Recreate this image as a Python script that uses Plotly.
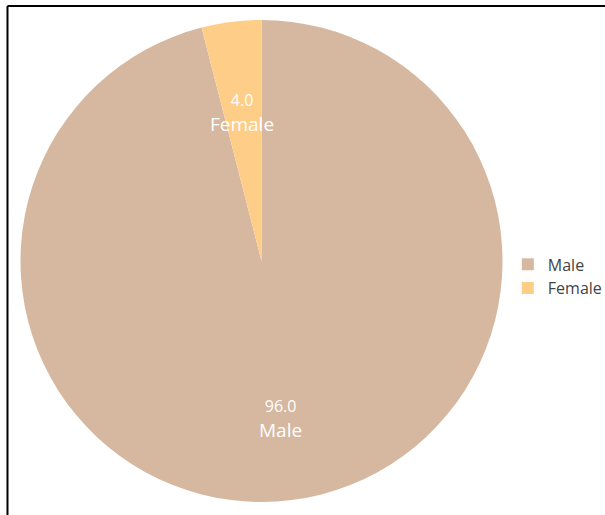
import math
import plotly.graph_objects as go

labels = ["Male", "Female"]
values = [96.0, 4.0]
colors = ["#D6B8A0", "#FECE88"]

W, H = 605, 515
ML, MR, MT, MB = 20, 102, 20, 13
PW, PH = W - ML - MR, H - MT - MB
R_PX = min(PW, PH) / 2
LABEL_R = 0.64  # fraction of radius where labels sit

fig = go.Figure(go.Pie(
    labels=labels,
    values=values,
    sort=False,
    direction="clockwise",
    marker=dict(colors=colors, line=dict(width=0)),
    textinfo="none",
    hoverinfo="label+value",
    domain=dict(x=[0, 1], y=[0, 1]),
))

# slice labels, placed at each slice's mid-angle
total = sum(values)
cum = 0.0
annotations = []
for lab, val in zip(labels, values):
    mid = (cum + val / 2) / total * 2 * math.pi
    cum += val
    dx = math.sin(mid) * R_PX * LABEL_R
    dy = math.cos(mid) * R_PX * LABEL_R
    annotations.append(dict(
        x=0.5 + dx / PW, y=0.5 + dy / PH, xref="paper", yref="paper",
        text=f"<span style='font-size:16px'>{val:.1f}</span><br>"
             f"<span style='font-size:19px'>{lab}</span>",
        showarrow=False, xanchor="center", yanchor="middle", yshift=-5,
        font=dict(color="white", family="Open Sans", size=19),
    ))

fig.update_layout(
    width=W, height=H,
    margin=dict(l=ML, r=MR, t=MT, b=MB, autoexpand=False),
    paper_bgcolor="white",
    plot_bgcolor="white",
    font=dict(family="Open Sans", color="#444"),
    annotations=annotations,
    legend=dict(
        x=1.01, y=0.468, xanchor="left", yanchor="middle",
        font=dict(size=16, color="#444", family="Open Sans"),
        itemsizing="constant",
    ),
    shapes=[
        dict(type="line", xref="paper", yref="paper", x0=-0.0259, x1=1.3, y0=1.0288, y1=1.0288,
             line=dict(color="black", width=2)),
        dict(type="line", xref="paper", yref="paper", x0=-0.0259, x1=-0.0259, y0=1.0288, y1=-0.1,
             line=dict(color="black", width=2)),
    ],
)

fig.write_html("out.html")
